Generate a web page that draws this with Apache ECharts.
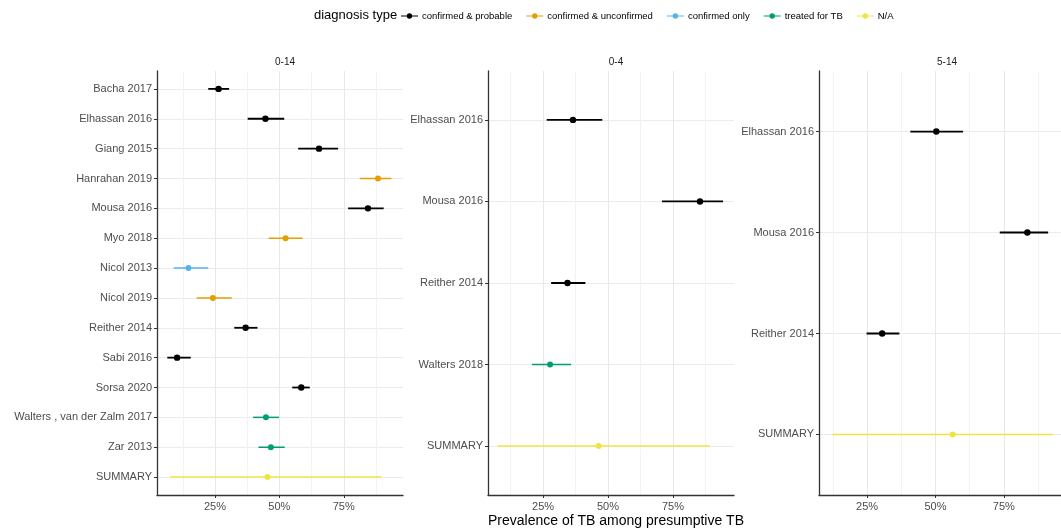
<!DOCTYPE html>
<html>
<head>
<meta charset="utf-8">
<script src="https://cdn.jsdelivr.net/npm/echarts@6/dist/echarts.min.js"></script>
<style>
html,body{margin:0;padding:0;background:#fff;}
#chart{width:1061px;height:530px;}
</style>
</head>
<body>
<div id="chart"></div>
<script>
// ---------- DATA ----------
const typeNames = ['confirmed & probable', 'confirmed & unconfirmed', 'confirmed only', 'treated for TB', 'N/A'];
const typeColors = ['#000000', '#E69F00', '#56B4E9', '#009E73', '#F0E442'];

const panelTitles = ['0-14', '0-4', '5-14'];

// Panel 0-14
const cats014 = ['Bacha 2017', 'Elhassan 2016', 'Giang 2015', 'Hanrahan 2019', 'Mousa 2016', 'Myo 2018', 'Nicol 2013', 'Nicol 2019', 'Reither 2014', 'Sabi 2016', 'Sorsa 2020', 'Walters , van der Zalm 2017', 'Zar 2013', 'SUMMARY'];
const mid014 = [26.4, 44.6, 65.4, 88.3, 84.4, 52.4, 14.7, 24.2, 36.9, 10.3, 58.5, 44.8, 46.7, 45.4];
const lo014  = [22.4, 37.7, 57.3, 81.2, 76.7, 45.9, 9.0, 17.9, 32.5, 6.5, 55.0, 39.8, 41.9, 7.6];
const hi014  = [30.5, 51.9, 72.8, 93.5, 90.5, 59.0, 22.4, 31.5, 41.5, 15.6, 61.8, 49.9, 52.1, 89.6];
const type014 = [0, 0, 0, 1, 0, 1, 2, 1, 0, 0, 0, 3, 3, 4];

// Panel 0-4
const cats04 = ['Elhassan 2016', 'Mousa 2016', 'Reither 2014', 'Walters 2018', 'SUMMARY'];
const mid04 = [36.5, 85.4, 34.4, 27.7, 46.4];
const lo04  = [26.4, 70.8, 28.1, 20.7, 7.6];
const hi04  = [47.8, 94.3, 41.3, 35.8, 89.2];
const type04 = [0, 0, 0, 3, 4];

// Panel 5-14
const cats514 = ['Elhassan 2016', 'Mousa 2016', 'Reither 2014', 'SUMMARY'];
const mid514 = [50.3, 83.6, 30.5, 56.3];
const lo514  = [40.8, 73.5, 24.8, 12.3];
const hi514  = [60.1, 91.2, 36.8, 92.9];
const type514 = [0, 0, 0, 4];

const xMajorTicks = [25, 50, 75];
const xAllTicks = [12.5, 25, 37.5, 50, 62.5, 75, 87.5];
const xTitle = 'Prevalence of TB among presumptive TB';
const legendTitle = 'diagnosis type';

// ---------- LAYOUT ----------
const FONT = "'Liberation Sans', Arial, sans-serif";
const panels = [
  {cats: cats014, mid: mid014, lo: lo014, hi: hi014, type: type014, left: 157, xmin: 2.5, xmax: 98},
  {cats: cats04,  mid: mid04,  lo: lo04,  hi: hi04,  type: type04,  left: 488, xmin: 3.8, xmax: 98.5},
  {cats: cats514, mid: mid514, lo: lo514, hi: hi514, type: type514, left: 819, xmin: 7.4, xmax: 95.9}
];
const PW = 246, PTOP = 71, PH = 424;

const grids = [], xAxes = [], yAxes = [], series = [], titles = [];

panels.forEach((p, i) => {
  grids.push({left: p.left, top: PTOP, width: PW, height: PH, containLabel: false});
  // main x axis: line, labels, gridlines
  xAxes.push({
    type: 'value', gridIndex: i, min: p.xmin, max: p.xmax, position: 'bottom',
    axisLine: {show: true, onZero: false, lineStyle: {color: '#333333', width: 1.3}},
    axisTick: {show: false, customValues: xAllTicks},
    axisLabel: {customValues: xMajorTicks, formatter: v => v + '%', color: '#4d4d4d', fontSize: 11, fontFamily: FONT, margin: 6},
    splitLine: {show: true, lineStyle: {color: ['#f3f3f3', '#e8e8e8'], width: 1}}
  });
  // tick-only x axis
  xAxes.push({
    type: 'value', gridIndex: i, min: p.xmin, max: p.xmax, position: 'bottom',
    axisLine: {show: false, onZero: false},
    axisTick: {show: true, length: 3, customValues: xMajorTicks, lineStyle: {color: '#333333'}},
    axisLabel: {show: false},
    splitLine: {show: false}
  });
  const n = p.cats.length;
  const rowIdx = p.cats.map((c, k) => k);
  yAxes.push({
    type: 'value', gridIndex: i, min: -0.6, max: n - 1 + 0.6, inverse: true,
    axisLine: {show: true, onZero: false, lineStyle: {color: '#333333', width: 1.3}},
    axisTick: {show: true, length: 3, customValues: rowIdx, lineStyle: {color: '#333333'}},
    axisLabel: {customValues: rowIdx, formatter: v => p.cats[Math.round(v)], color: '#4d4d4d', fontSize: 11, fontFamily: FONT, margin: 5},
    splitLine: {show: true, lineStyle: {color: '#ebebeb', width: 1}}
  });
  titles.push({
    text: panelTitles[i], left: p.left + PW / 2, top: 52, textAlign: 'center',
    textStyle: {fontSize: 10, fontWeight: 'normal', color: '#1a1a1a', fontFamily: FONT}
  });
  typeNames.forEach((tn, t) => {
    const data = [];
    p.cats.forEach((c, k) => {
      if (p.type[k] === t) data.push([k, p.lo[k], p.mid[k], p.hi[k]]);
    });
    if (!data.length) return;
    const black = t === 0;
    series.push({
      type: 'custom', name: tn, xAxisIndex: i * 2, yAxisIndex: i,
      itemStyle: {color: typeColors[t]},
      encode: {x: [1, 2, 3], y: 0},
      data: data,
      renderItem: (params, api) => {
        const y = api.value(0);
        const a = api.coord([api.value(1), y]);
        const m = api.coord([api.value(2), y]);
        const b = api.coord([api.value(3), y]);
        const col = api.visual('color');
        return {type: 'group', children: [
          {type: 'line', shape: {x1: a[0], y1: a[1], x2: b[0], y2: b[1]}, style: {stroke: col, lineWidth: black ? 1.8 : 1.5}},
          {type: 'circle', shape: {cx: m[0], cy: m[1], r: black ? 3.2 : 3}, style: {fill: col}}
        ]};
      }
    });
  });
});

titles.push({
  text: xTitle, left: 611, top: 509, textAlign: 'center',
  textStyle: {fontSize: 14, fontWeight: 'normal', color: '#000000', fontFamily: FONT}
});
titles.push({
  text: legendTitle, left: 309, top: 4,
  textStyle: {fontSize: 13, fontWeight: 'normal', color: '#000000', fontFamily: FONT}
});

const legendIcon = 'path://M0,4.4 L20,4.4 L20,5.6 L0,5.6 Z M13.2,5 A3.2,3.2 0 1 1 6.8,5 A3.2,3.2 0 1 1 13.2,5 Z';

const chart = echarts.init(document.getElementById('chart'), null, {renderer: 'canvas'});
chart.setOption({
  animation: false,
  backgroundColor: '#ffffff',
  title: titles,
  legend: {
    data: typeNames, left: 396, top: 6, orient: 'horizontal',
    icon: legendIcon, itemWidth: 17, itemHeight: 8.5, itemGap: 14,
    textStyle: {fontSize: 9.5, color: '#000000', fontFamily: FONT, padding: [0, 0, 0, -1]},
    selectedMode: false
  },
  grid: grids,
  xAxis: xAxes,
  yAxis: yAxes,
  series: series
});
</script>
</body>
</html>
